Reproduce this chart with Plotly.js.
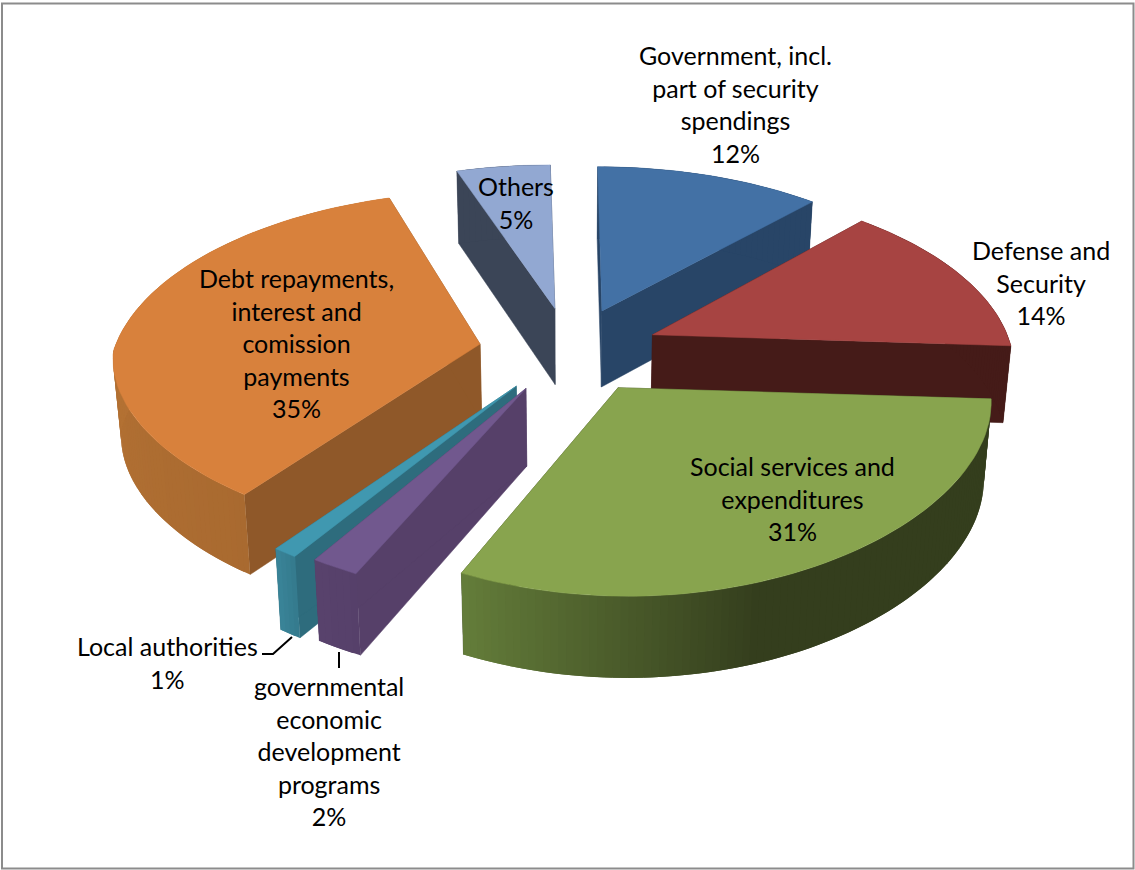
<!DOCTYPE html>
<html>
<head>
<meta charset="utf-8">
<script src="https://cdn.plot.ly/plotly-3.0.1.min.js"></script>
<style>html,body{margin:0;padding:0;background:#fff}#chart{width:1135px;height:870px}</style>
</head>
<body>
<div id="chart"></div>
<script>
// Budget shares, clockwise from twelve o'clock.
const categories = [
  "Government, incl.<br>part of security<br>spendings",
  "Defense and<br>Security",
  "Social services and<br>expenditures",
  "governmental<br>economic<br>development<br>programs",
  "Local authorities",
  "Debt repayments,<br>interest and<br>comission<br>payments",
  "Others"
];
const shares = [12, 14, 31, 2, 1, 35, 5];

// Face colours per slice.
const topColors    = ["#4371a5", "#a74442", "#88a44e", "#71588e", "#4098b0", "#d8813c", "#92a8d2"];
const radialColors = ["#284567", "#451b18", "#36401e", "#564069", "#2e6c7d", "#8f5829", "#3b4557"];
const wallFrom     = ["#284567", "#451b18", "#647d3a", "#58426c", "#3a8498", "#c07a38", "#3b4557"];
const wallTo       = ["#284567", "#451b18", "#343e1d", "#56406a", "#347a8c", "#a96a30", "#3b4557"];
// Fraction of the rim that stays at the dark end of the shade.
const wallHold     = [0, 0, 0.6, 0, 0, 0, 0];
// Sideways offset of each slice's rim, in pixels; the apex moves by a fifth of it.
const sliceShift   = [0, 0, 8, 0, -12, -8, -8];

// Where each label block is centred, in page pixels.
const labelX = [735, 1041, 792, 329, 167, 296, 516];
const labelY = [104, 282, 498, 751, 662, 343, 202];

// Camera constants for the tilted, exploded pie.
const cam = {cx: 570, cy: 351, a: 360, bBack: 179, bFront: 165, kBack: 0.16, kFrontX: 0.07, kFrontY: 0.15, h: 77, explode: 0.25};

function project(X, Y, d) {
  const back = Y >= 0;
  const sy = 1 / (1 + (back ? cam.kBack : cam.kFrontY) * Y);
  const sx = 1 / (1 + (back ? cam.kBack : cam.kFrontX) * Y);
  return [
    cam.cx + cam.a * X * sx * (1 - 0.018 * d),
    cam.cy - (back ? cam.bBack : cam.bFront) * Y * sy + cam.h * (1 - 0.05 * Y) * d
  ];
}

function hex(c) { return [1, 3, 5].map(i => parseInt(c.substr(i, 2), 16)); }
function mix(c1, c2, t) {
  const a = hex(c1), b = hex(c2);
  return "rgb(" + a.map((v, i) => Math.round(v + (b[i] - v) * t)).join(",") + ")";
}

function polygon(points, color, edge) {
  return {
    type: "scatter", mode: "lines", fill: "toself", fillcolor: color,
    x: points.map(p => p[0]), y: points.map(p => p[1]),
    line: {color: color, width: edge}, hoverinfo: "skip", showlegend: false
  };
}

// Build the faces of every slice from its share of the turn.
const total = shares.reduce((s, v) => s + v, 0);
let run = 0;
const slices = shares.map((v, i) => {
  const start = run / total * 2 * Math.PI;
  run += v;
  const end = run / total * 2 * Math.PI;
  return {i, start, end};
});

function sliceTraces(s) {
  const mid = (s.start + s.end) / 2;
  const ox = cam.explode * Math.sin(mid), oy = cam.explode * Math.cos(mid);
  const rim = (t, d) => {
    const p = project(ox + Math.sin(t), oy + Math.cos(t), d);
    return [p[0] + sliceShift[s.i], p[1]];
  };
  const apex = d => {
    const p = project(ox, oy, d);
    return [p[0] + 0.2 * sliceShift[s.i], p[1]];
  };
  const out = [];
  // radial walls
  out.push(polygon([apex(0), rim(s.start, 0), rim(s.start, 1), apex(1), apex(0)], radialColors[s.i], 0.5));
  out.push(polygon([apex(0), rim(s.end, 0), rim(s.end, 1), apex(1), apex(0)], radialColors[s.i], 0.5));
  // curved outer wall: overlapping strips give a seamless shade along the rim
  const n = Math.max(4, Math.round((s.end - s.start) / 0.02));
  const step = (s.end - s.start) / n;
  const hold = wallHold[s.i];
  for (let j = 0; j < n; j++) {
    const t0 = s.start + step * j;
    const t1 = Math.min(s.end, t0 + step * 2);
    const t = Math.max(0, ((j + 0.5) / n - hold) / (1 - hold));
    const shade = mix(wallTo[s.i], wallFrom[s.i], t);
    const tm = t0 + (t1 - t0) / 2;
    out.push(polygon([rim(t0, 0), rim(tm, 0), rim(t1, 0), rim(t1, 1), rim(tm, 1), rim(t0, 1), rim(t0, 0)], shade, 0));
  }
  // top face
  const topFace = [apex(0)];
  for (let j = 0; j <= 60; j++) topFace.push(rim(s.start + (s.end - s.start) * j / 60, 0));
  topFace.push(apex(0));
  out.push(polygon(topFace, topColors[s.i], 0.5));
  return out;
}

// Paint from the back of the pie to the front.
const paintOrder = [6, 0, 1, 5, 4, 3, 2];
const traces = [];
paintOrder.forEach(i => traces.push(...sliceTraces(slices[i])));

const annotations = categories.map((c, i) => ({
  x: labelX[i], y: labelY[i], xref: "x", yref: "y", showarrow: false,
  text: c + "<br>" + shares[i] + "%", align: "center", xanchor: "center", yanchor: "middle",
  font: {family: "Lato, sans-serif", size: 25, color: "#000"}
}));

const leaderLine = (path) => ({type: "path", path, xref: "x", yref: "y", line: {color: "#000", width: 2}, layer: "above"});

const layout = {
  width: 1135, height: 870,
  margin: {l: 0, r: 0, t: 0, b: 0},
  paper_bgcolor: "#fff", plot_bgcolor: "#fff",
  xaxis: {range: [0, 1135], visible: false, fixedrange: true},
  yaxis: {range: [870, 0], visible: false, fixedrange: true},
  showlegend: false,
  annotations,
  shapes: [
    {type: "rect", xref: "x", yref: "y", x0: 2, y0: 3.5, x1: 1133.5, y1: 868.5,
     line: {color: "#8c8c8c", width: 2}, fillcolor: "rgba(0,0,0,0)", layer: "above"},
    leaderLine("M 262 654 L 273 654 L 292 637"),
    leaderLine("M 339 652 L 339 668")
  ]
};

Plotly.newPlot("chart", traces, layout, {displayModeBar: false, staticPlot: true});
</script>
</body>
</html>
